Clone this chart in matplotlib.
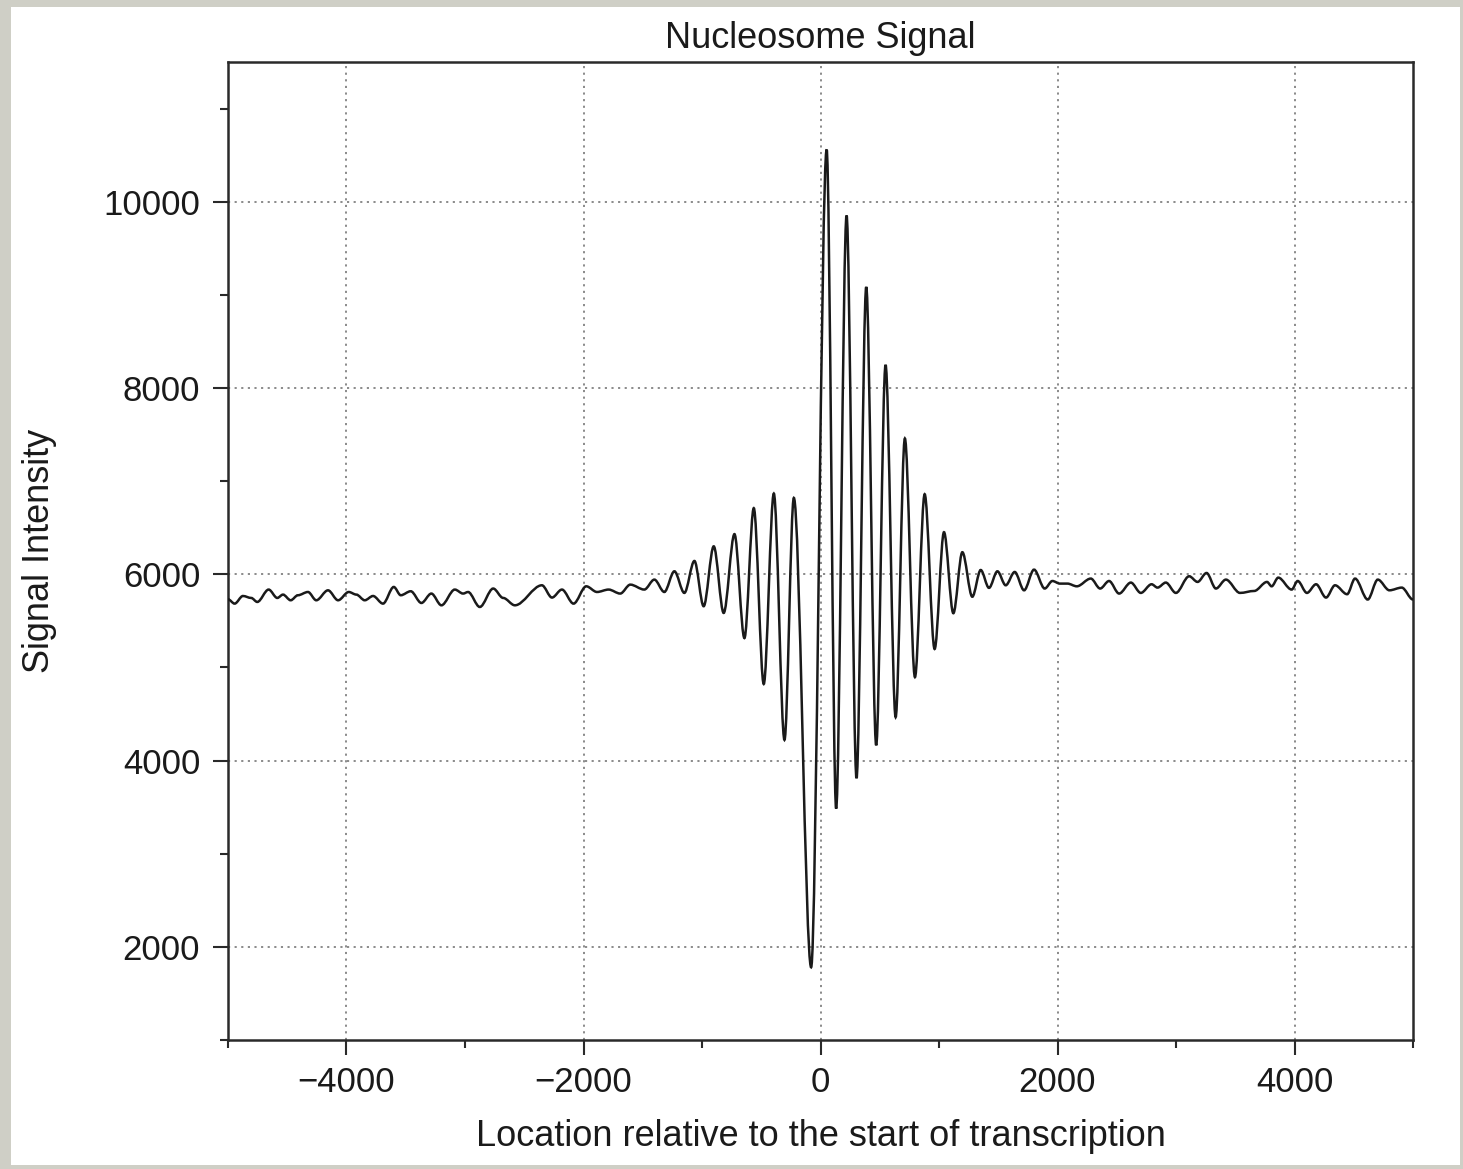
import matplotlib
matplotlib.use("Agg")
import matplotlib.pyplot as plt
from matplotlib.path import Path
from matplotlib.patches import PathPatch, Rectangle
from matplotlib.ticker import MultipleLocator

plt.rcParams["font.family"] = ["Liberation Sans", "DejaVu Sans"]

# Local extrema of the averaged nucleosome signal around the TSS
position = [
    -5000, -4944, -4874, -4804, -4753, -4657, -4584, -4536, -4471, -4410,
    -4325, -4255, -4156, -4071, -3981, -3917, -3846, -3776, -3692, -3601,
    -3542, -3458, -3368, -3284, -3199, -3086, -3016, -2974, -2875, -2762,
    -2678, -2579, -2351, -2266, -2182, -2084, -1977, -1886, -1788, -1690,
    -1605, -1487, -1402, -1318, -1233, -1149, -1064, -986, -901, -817,
    -726, -642, -563, -479, -394, -304, -225, -79, 52, 132,
    220, 304, 386, 470, 549, 634, 712, 797, 879, 963,
    1042, 1121, 1197, 1281, 1352, 1422, 1493, 1563, 1639, 1718,
    1802, 1892, 1957, 2020, 2084, 2163, 2281, 2360, 2435, 2520,
    2619, 2703, 2794, 2844, 2914, 2999, 3111, 3182, 3258, 3337,
    3421, 3540, 3660, 3768, 3807, 3863, 3976, 4027, 4105, 4182,
    4266, 4342, 4444, 4511, 4618, 4703, 4801, 4905, 5000,
]
intensity = [
    5732, 5685, 5767, 5746, 5703, 5836, 5746, 5782, 5721, 5775,
    5810, 5721, 5828, 5721, 5810, 5782, 5721, 5767, 5685, 5864,
    5775, 5818, 5692, 5793, 5667, 5836, 5793, 5810, 5649, 5847,
    5746, 5667, 5882, 5750, 5836, 5685, 5871, 5810, 5836, 5793,
    5889, 5836, 5943, 5810, 6032, 5800, 6143, 5657, 6300, 5585,
    6431, 5315, 6710, 4822, 6867, 4222, 6820, 1781, 10560, 3484,
    9852, 3810, 9085, 4164, 8248, 4466, 7458, 4896, 6860, 5198,
    6452, 5582, 6237, 5759, 6046, 5854, 6032, 5882, 6025, 5828,
    6050, 5847, 5928, 5900, 5900, 5871, 5954, 5847, 5928, 5793,
    5911, 5800, 5893, 5857, 5911, 5800, 5979, 5918, 6014, 5847,
    5943, 5800, 5821, 5918, 5871, 5964, 5836, 5928, 5800, 5893,
    5750, 5882, 5786, 5954, 5729, 5943, 5828, 5857, 5729,
]

x_major = [-4000, -2000, 0, 2000, 4000]
y_major = [2000, 4000, 6000, 8000, 10000]

W, H = 1463, 1169
fig = plt.figure(figsize=(W / 100, H / 100), dpi=100, facecolor="#cfcfc6")
fig.patches.append(Rectangle((11 / W, 4 / H), (1460 - 11) / W, (1162 - 4) / H,
                             transform=fig.transFigure, facecolor="white",
                             edgecolor="none", zorder=-10))

ax = fig.add_axes([228 / W, 1 - 1040 / H, (1413 - 228) / W, (1040 - 62) / H])
ax.set_facecolor("white")
ax.set_zorder(5)

# Smooth trace: cubic segments with flat tangents at every extremum
verts = [(position[0], intensity[0])]
codes = [Path.MOVETO]
for i in range(1, len(position)):
    x0, y0 = position[i - 1], intensity[i - 1]
    x1, y1 = position[i], intensity[i]
    dx = (x1 - x0) / 3.0
    verts += [(x0 + dx, y0), (x1 - dx, y1), (x1, y1)]
    codes += [Path.CURVE4] * 3
ax.add_patch(PathPatch(Path(verts, codes), facecolor="none",
                       edgecolor="#1a1a1a", lw=1.8, zorder=3))

ax.set_xlim(-5000, 5000)
ax.set_ylim(1000, 11500)
ax.set_xticks(x_major)
ax.set_yticks(y_major)
ax.xaxis.set_minor_locator(MultipleLocator(1000))
ax.yaxis.set_minor_locator(MultipleLocator(1000))

ax.grid(which="major", color="#8a8a8a", linestyle=(0, (1.1, 2.3)), lw=1.4)
ax.set_axisbelow(True)

for s in ax.spines.values():
    s.set_color("#2a2a2a")
    s.set_linewidth(1.8)

ax.tick_params(which="major", direction="out", length=11, width=1.5,
               color="#2a2a2a", labelsize=25, labelcolor="#1a1a1a")
ax.tick_params(which="minor", direction="out", length=6, width=1.5,
               color="#2a2a2a")
ax.tick_params(axis="x", which="major", pad=7.5)
ax.tick_params(axis="y", which="major", pad=9)

ax.set_title("Nucleosome Signal", fontsize=26, color="#1a1a1a",
             y=1 + 13.5 / 978, pad=0)
ax.set_xlabel("Location relative to the start of transcription",
              fontsize=26, color="#1a1a1a")
ax.set_ylabel("Signal Intensity", fontsize=26, color="#1a1a1a")
ax.xaxis.set_label_coords(0.5, -79 / 978)
ax.yaxis.set_label_coords(-171 / 1185, 0.5)

fig.savefig("out.png", dpi=100, facecolor=fig.get_facecolor())
